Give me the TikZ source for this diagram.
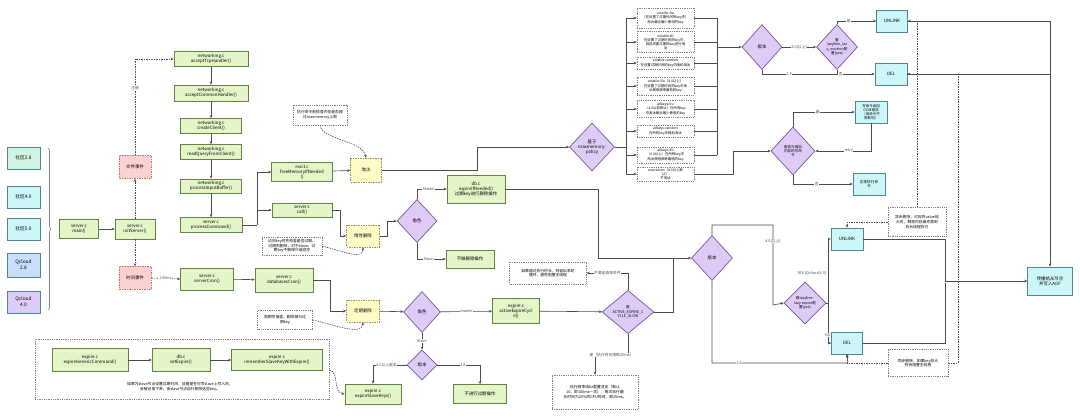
\documentclass[tikz,border=0pt]{standalone}
\usepackage{fontspec}
\setmainfont{Noto Sans CJK SC}
\usetikzlibrary{shapes.geometric,arrows.meta,decorations.pathreplacing}
\definecolor{gfill}{RGB}{228,246,200}
\definecolor{gline}{RGB}{100,130,70}
\definecolor{yfill}{RGB}{255,252,200}
\definecolor{yline}{RGB}{150,150,90}
\definecolor{pfill}{RGB}{250,210,210}
\definecolor{pline}{RGB}{200,110,110}
\definecolor{dfill}{RGB}{222,203,246}
\definecolor{dline}{RGB}{115,90,160}
\definecolor{cfill}{RGB}{205,246,248}
\definecolor{cline}{RGB}{75,135,150}
\definecolor{lncol}{RGB}{75,75,75}
\definecolor{vone}{RGB}{210,245,225}
\definecolor{vfour}{RGB}{200,222,250}
\definecolor{vfive}{RGB}{222,205,248}
\begin{document}
\begin{tikzpicture}[x=1pt,y=-1pt,
  base/.style={font=\fontsize{4.4}{5.2}\selectfont, align=center, inner sep=0.8pt},
  sz/.style 2 args={minimum width=#1pt, minimum height=#2pt},
  gbox/.style={base, draw=gline, fill=gfill, line width=0.7pt},
  ybox/.style={base, draw=yline, fill=yfill, dash pattern=on 1.5pt off 1pt, line width=0.6pt},
  pbox/.style={base, draw=pline, fill=pfill, dash pattern=on 1.5pt off 1pt, line width=0.6pt},
  cbox/.style={base, draw=cline, fill=cfill, line width=0.7pt},
  vbox/.style={base, draw=cline, line width=0.7pt, sz={33}{22}, font=\fontsize{4.8}{5.8}\selectfont},
  dia/.style={base, shape=diamond, draw=dline, fill=dfill, line width=0.7pt, inner sep=0pt},
  note/.style={base, draw=gray, fill=white, dash pattern=on 1pt off 0.8pt, line width=0.45pt, font=\fontsize{3.8}{4.6}\selectfont},
  pol/.style={note, font=\fontsize{3.4}{4.1}\selectfont, sz={57}{10}},
  wire/.style={draw=lncol, line width=0.6pt},
  arr/.style={wire, -{Stealth[length=3pt,width=2.6pt]}},
  darr/.style={arr, dash pattern=on 1.5pt off 1pt},
  lab/.style={font=\fontsize{3.8}{4.2}\selectfont, fill=white, inner sep=0.5pt, text=lncol}
]
\useasboundingbox (0,0) rectangle (1080,419);
\fill[white] (0,0) rectangle (1080,419);

% versions
\node[vbox, fill=vone] (v1) at (23.5,158) {社区2.8};
\node[vbox, fill=cfill] (v2) at (23.5,197) {社区4.0};
\node[vbox, fill=cfill] (v3) at (23.5,229) {社区5.0};
\node[vbox, fill=vfour, sz={33}{24}] (v4) at (23.5,265) {Qcloud\\2.8};
\node[vbox, fill=vfive] (v5) at (23.5,302) {Qcloud\\4.0};
\draw[wire, gray, decorate, decoration={brace, amplitude=3pt}] (48,148) -- (48,310);

% main path
\node[gbox, sz={39}{19}] (main) at (79,229) {server.c\\main()};
\node[gbox, sz={40}{20}] (initS) at (135,229) {server.c\\initServer()};
\node[pbox, sz={32}{23}] (pinkTop) at (135,167) {文件事件};
\node[pbox, sz={32}{23}] (pinkBot) at (135,278) {时间事件};

\node[gbox, sz={74}{15}] (accept) at (211,59) {networking.c\\acceptTcpHandler()};
\node[gbox, sz={74}{16}] (common) at (211,93) {networking.c\\acceptCommonHandler()};
\node[gbox, sz={61}{15}] (create) at (211,126) {networking.c\\createClient()};
\node[gbox, sz={61}{15}] (readq) at (211,152) {networking.c\\readQueryFromClient()};
\node[gbox, sz={61}{14}] (procIn) at (211,186) {networking.c\\processInputBuffer()};
\node[gbox, sz={62}{15}] (procCmd) at (211,225) {server.c\\processCommand()};

\node[gbox, sz={53}{22}] (cron) at (207,279) {server.c\\serverCron()};
\node[gbox, sz={58}{24}] (dbcron) at (284,280) {server.c\\databasesCron()};

\node[gbox, sz={61}{19}] (freeMem) at (302,172) {evict.c\\freeMemoryIfNeeded\\()};
\node[gbox, sz={60}{14}] (call) at (302,210) {server.c\\call()};
\node[ybox, sz={31}{24}] (yEvict) at (366,170) {淘汰};
\node[note, sz={54}{20}] (noteEvict) at (320,115) {执行命令前检查内存是否超\\过maxmemory上限};
\node[ybox, sz={33}{22}] (yLazy) at (363,236) {惰性删除};
\node[note, sz={60}{18}] (noteLazy) at (292,246) {访问key时先检查是否过期，\\过期则删除，对于slave，过\\期key不删除只返回空};
\node[ybox, sz={33}{22}] (yActive) at (363,311) {定期删除};
\node[note, sz={55}{19}] (noteActive) at (285,320) {周期性抽查，删除部分过\\期key};

\node[dia, sz={40}{43}] (roleTop) at (417,221) {角色};
\node[gbox, sz={58}{28}] (expIf) at (476,189) {db.c\\expireIfNeeded()\\过期key进行删除操作};
\node[gbox, sz={48}{18}] (noop1) at (470,259) {不做删除操作};

\node[dia, sz={37}{41}] (roleBot) at (422,312) {角色};
\node[gbox, sz={47}{25}] (activeExp) at (516,311) {expire.c\\activeExpireCycl\\e()};
\node[dia, sz={30}{30}] (verB2) at (422,365) {版本};
\node[gbox, sz={56}{20}] (slaveExp) at (373,394) {expire.c\\expireSlaveKeys()};
\node[gbox, sz={53}{19}] (noop2) at (480,394) {不进行过期操作};

% container
\node[draw=gray, dash pattern=on 1pt off 0.8pt, line width=0.45pt, sz={294}{60}, inner sep=0pt] (cont) at (182,369) {};
\node[gbox, sz={76}{23}] (genCmd) at (90,360) {expire.c\\expireGenericCommand()};
\node[gbox, sz={58}{23}] (setExp) at (181,360) {db.c\\setExpire()};
\node[gbox, sz={91}{21}] (remember) at (277,360) {expire.c\\rememberSlaveKeyWithExpire()};
\node[base, font=\fontsize{3.8}{4.8}\selectfont] (contText) at (180,387) {如果为slave节点设置过期时间，且键是在可写slave上写入的，\\会被记录下来，由slave节点自行删除这些key。};

% active expire
\node[dia, sz={52}{43}, font=\fontsize{3.7}{4.4}\selectfont] (slowDia) at (628,312) {是\\ACTIVE\_EXPIRE\_C\\YCLE\_SLOW};
\node[note, sz={77}{22}] (noteSlow) at (548,273) {如果超过执行时长，则退出本轮\\循环，避免阻塞主线程};
\node[note, sz={86}{34}] (noteCycle) at (595,392) {执行频率由hz配置决定（默认\\10，即100ms一次），每次执行最\\长时间为25\%的CPU时间，即25ms。};

% lower version branch
\node[dia, sz={41}{45}] (vBot) at (712,258) {版本};
\node[dia, sz={42}{42}, font=\fontsize{3.6}{4.3}\selectfont] (lzBot) at (805,303) {看lazyfree-\\lazy-expire配\\置(yes)};
\node[cbox, sz={32}{22}] (unlinkBot) at (847,239) {UNLINK};
\node[cbox, sz={31}{22}] (delBot) at (847,343) {DEL};
\node[note, sz={58}{29}] (noteUnlink) at (917,222) {异步删除，对应的value较\\大时，释放内存操作放到\\后台线程执行};
\node[note, sz={60}{27}] (noteDel) at (918,363) {同步删除，如果key较大\\则会阻塞主线程};
\node[cbox, sz={45}{28}] (final) at (1050,281) {传播给从节点\\并写入AOF};

% maxmemory policy
\node[dia, sz={45}{48}] (maxDia) at (592,147) {基于\\maxmemory-\\policy};
\node[pol, sz={57}{20}] (p1) at (665.5,18) {volatile-lru\\（在设置了过期时间的key中）\\淘汰最近最少使用的key};
\node[pol, sz={57}{21}] (p2) at (665.5,42) {volatile-ttl\\在设置了过期时间的key中，\\挑选将要过期的key进行淘\\汰};
\node[pol, sz={57}{12}] (p3) at (665.5,63) {volatile-random\\在设置过期时间的key中随机淘汰};
\node[pol, sz={57}{18}] (p4) at (665.5,86) {volatile-lfu（4.0以上）\\在设置了过期时间的key中淘\\汰使用频率最低的key};
\node[pol, sz={57}{17}] (p5) at (665.5,109) {allkeys-lru\\（4.0以前默认）在所有key\\中淘汰最近最少使用的key};
\node[pol, sz={57}{12}] (p6) at (665.5,131) {allkeys-random\\在所有key中随机淘汰};
\node[pol, sz={57}{16}] (p7) at (665.5,155) {allkeys-lfu\\（4.0以上）在所有key中\\淘汰使用频率最低的key};
\node[pol, sz={57}{14}] (p8) at (665.5,174) {noeviction（4.0以上默\\认）\\不淘汰};

\node[dia, sz={40}{45}] (verTop) at (762,47) {版本};
\node[dia, sz={41}{45}, font=\fontsize{3.6}{4.3}\selectfont] (lzTop) at (837,47) {看\\lazyfree\_laz\\y\_eviction配\\置(yes)};
\node[cbox, sz={31}{22}] (unlinkTop) at (892,21) {UNLINK};
\node[cbox, sz={32}{22}] (delTop) at (891,74) {DEL};

\node[dia, sz={44}{48}, font=\fontsize{3.6}{4.3}\selectfont] (oomDia) at (793,151) {是否为增加\\内存的写命\\令};
\node[cbox, sz={32}{22}, font=\fontsize{3.5}{4.2}\selectfont] (cFail) at (871,112) {写命令返回\\OOM错误\\（读命令不\\受影响）};
\node[cbox, sz={32}{22}, font=\fontsize{3.7}{4.4}\selectfont] (cOk) at (869,184) {正常执行命\\令};

% ---------- connectors ----------
\draw[arr] (main) -- (initS);
\draw[darr] (initS.north) -- (pinkTop.south);
\draw[darr] (pinkTop.north) -- node[lab, pos=0.7]{注册} (135,59) -- (accept.west);
\draw[darr] (initS.south) -- (pinkBot.north);
\draw[darr] (pinkBot.east) -- node[lab]{100ms} (cron.west);

\draw[arr] (accept) -- (common);
\draw[arr] (common) -- (create);
\draw[arr] (create) -- (readq);
\draw[arr] (readq) -- (procIn);
\draw[arr] (procIn) -- (procCmd);

\coordinate (sp) at (257,225);
\draw[wire] (procCmd.east) -- (sp);
\draw[arr] (sp) |- (freeMem.west);
\draw[arr] (sp) |- (call.west);

\draw[arr] (cron) -- (dbcron);
\draw[arr] (freeMem) -- (yEvict);
\draw[darr] (noteEvict.south) .. controls (322,140) and (362,140) .. (yEvict.north);
\draw[arr] (yEvict.east) -- (477,170) |- (maxDia.west);

% policies
\draw[wire] (maxDia.east) -- (626,147);
\draw[wire] (626,18) -- (626,174);
\foreach \p in {p1,p2,p3,p4,p5,p6,p7,p8} { \draw[arr] (626,0 |- \p.west) -- (\p.west); }
\foreach \p in {p1,p2,p3,p4,p5,p6,p7} { \draw[wire] (\p.east) -- (717,0 |- \p.east); }
\draw[wire] (717,18) -- (717,155);
\draw[arr] (717,47) -- (verTop.west);
\draw[arr] (p8.east) -- (733,174) |- (oomDia.west);

\draw[arr] (verTop.east) -- node[lab]{4.0(以上)} (lzTop.west);
\draw[arr] (verTop.south) |- node[lab, pos=0.62]{2.8} node[lab, pos=0.85]{否} (delTop.west);
\draw[wire] (lzTop.south) -- (837,74);
\draw[arr] (lzTop.north) |- node[lab, pos=0.65]{是} (unlinkTop.west);
\draw[wire] (unlinkTop.east) -- (1050,21);
\draw[arr] (1050,21) -- (final.north);
\draw[wire] (delTop.east) -- (1050,74);
\draw[darr] (noteUnlink.north) |- (unlinkTop.east);
\draw[darr] (noteDel.east) -- (958,363) |- (delTop.east);

\draw[arr] (oomDia.north) |- node[lab, pos=0.7]{是} (cFail.west);
\draw[arr] (cFail.south) |- node[lab, pos=0.7]{retry} (oomDia.east);
\draw[arr] (oomDia.south) |- node[lab, pos=0.7]{否} (cOk.west);

% lazy
\draw[arr] (call.east) -- (340,210) |- (yLazy.west);
\draw[darr] (noteLazy.east) .. controls (345,252) and (363,260) .. (yLazy.south);
\draw[arr] (yLazy.east) -- (387,236) |- (roleTop.west);
\draw[arr] (roleTop.north) |- node[lab, pos=0.7]{Master} (expIf.west);
\draw[arr] (roleTop.south) |- node[lab, pos=0.7]{Slave} (noop1.west);
\draw[arr] (expIf.east) -- (598,189) |- (vBot.west);

% active
\draw[arr] (dbcron.east) -- (330,280) |- (yActive.west);
\draw[darr] (noteActive.east) .. controls (335,325) and (362,336) .. (yActive.south);
\draw[arr] (yActive) -- (roleBot);
\draw[arr] (roleBot) -- node[lab]{master} (activeExp);
\draw[arr] (roleBot) -- node[lab]{Slave} (verB2);
\draw[arr] (verB2.west) -| node[lab, pos=0.3]{4.0以上版本} (slaveExp.north);
\draw[arr] (verB2.east) -| node[lab, pos=0.3]{2.8} (noop2.north);
\draw[darr] (cont.east |- 0,370) .. controls (340,372) and (332,392) .. (slaveExp.west);
\draw[arr] (genCmd) -- (setExp);
\draw[arr] (setExp) -- (remember);

\draw[arr] (activeExp) -- (slowDia);
\draw[wire] (slowDia.east) -| (673,258);
\draw[arr] (slowDia.north) |- node[lab, pos=0.75]{不满足清除条件} (noteSlow.east);
\draw[arr] (slowDia.south) -- (628,355) -| node[lab, pos=0.25]{是（执行时长限制25ms）} (noteCycle.north);

% lower version
\draw[arr] (vBot.north) -- (712,225) -| node[lab, pos=0.6]{4.0(以上)} (773,305) -- (lzBot.west);
\draw[wire] (lzBot.east) -- (828,303);
\draw[arr] (828,303) |- (unlinkBot.west);
\node[lab, anchor=east] at (827,273) {YES (Qcloud 4.0)};
\draw[arr] (828,303) |- node[lab, pos=0.4]{NO} (delBot.west);
\draw[arr] (vBot.south) |- node[lab, pos=0.6]{2.8} (848,363) -- (delBot.south);
\draw[darr] (noteUnlink.west) -| (unlinkBot.north);
\draw[darr] (noteDel.west) -| (delBot.south);
\draw[arr] (unlinkBot.east) -- (945,239) |- (final.west);
\draw[wire] (delBot.east) -- (945,343) -- (945,283);
\end{tikzpicture}
\end{document}
